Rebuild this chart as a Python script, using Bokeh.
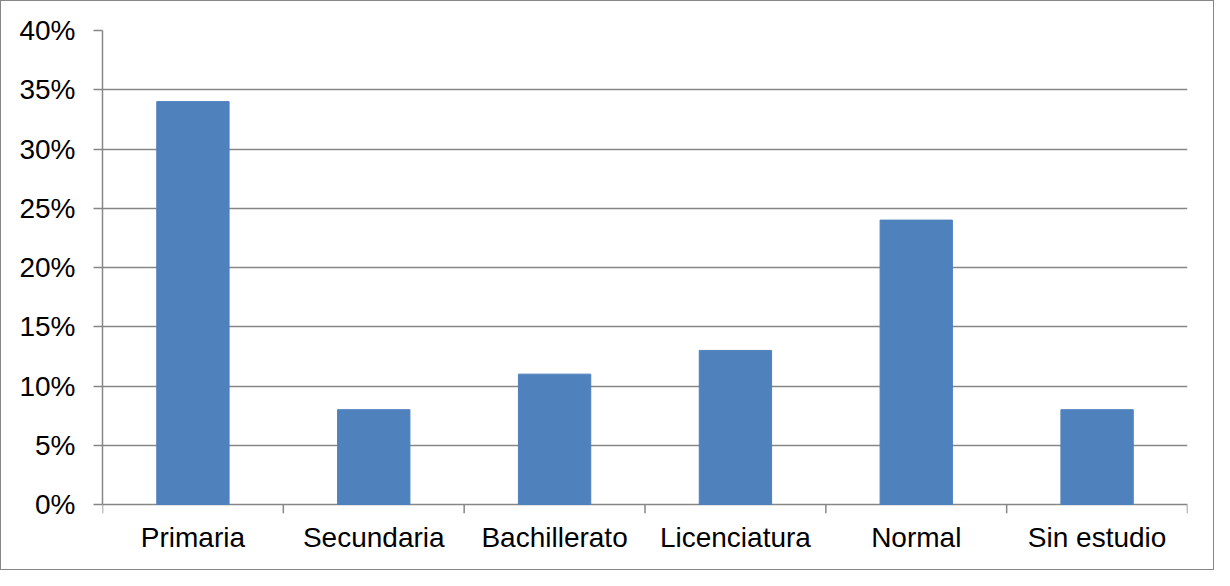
from bokeh.plotting import figure
from bokeh.models import (FactorRange, Range1d, LinearAxis, CategoricalAxis, FixedTicker,
                          NumeralTickFormatter, ColumnDataSource)
from bokeh.embed import file_html
from bokeh.resources import INLINE

categories = ["Primaria", "Secundaria", "Bachillerato", "Licenciatura", "Normal", "Sin estudio"]
values = [0.34, 0.08, 0.11, 0.13, 0.24, 0.08]
y_ticks = [0, 0.05, 0.10, 0.15, 0.20, 0.25, 0.30, 0.35, 0.40]

GRAY = "#868686"
FONT = "Liberation Sans"
FS = "28px"

Y_MAX = 0.4
PLOT_H = 474
TICK_PX = 9
tick_d = TICK_PX * Y_MAX / PLOT_H  # data length of the boundary ticks below 0

src = ColumnDataSource(dict(cat=categories, val=values))

p = figure(x_range=FactorRange(*categories, range_padding=0), y_range=Range1d(-tick_d, Y_MAX),
           frame_width=1085, frame_height=PLOT_H + TICK_PX,
           min_border_left=101, min_border_right=26, min_border_top=29, min_border_bottom=56,
           output_backend="svg", toolbar_location=None, x_axis_location=None,
           y_axis_location=None, outline_line_color=None, background_fill_color="white")
p.styles = {"border": "1px solid " + GRAY, "box-sizing": "border-box"}

p.vbar(x="cat", top="val", bottom=0, width=0.4, source=src, fill_color="#4F81BD",
       line_color="#4F81BD")

# boundary tick marks between categories
bx = [(c, -0.5) for c in categories] + [(categories[-1], 0.5)]
p.segment(x0=bx, x1=bx, y0=[0] * len(bx), y1=[-tick_d] * len(bx),
          line_color=GRAY, line_width=1.5)

yaxis = LinearAxis(ticker=FixedTicker(ticks=y_ticks, minor_ticks=[]),
                   formatter=NumeralTickFormatter(format="0%"), bounds=(0, Y_MAX))
yaxis.axis_line_color = GRAY
yaxis.axis_line_width = 1.5
yaxis.major_tick_line_color = GRAY
yaxis.major_tick_line_width = 1.5
yaxis.major_tick_out = 9
yaxis.major_tick_in = 0
yaxis.major_label_standoff = 18
yaxis.major_label_text_font = FONT
yaxis.major_label_text_font_size = FS
yaxis.major_label_text_color = "black"
p.add_layout(yaxis, "left")

xaxis = CategoricalAxis()
xaxis.axis_line_color = None
xaxis.major_tick_line_color = None
xaxis.major_tick_out = 0
xaxis.major_tick_in = 0
xaxis.major_label_standoff = 8
xaxis.major_label_text_font = FONT
xaxis.major_label_text_font_size = FS
xaxis.major_label_text_color = "black"
p.add_layout(xaxis, "below")

p.xgrid.visible = False
p.ygrid.grid_line_color = GRAY
p.ygrid.grid_line_width = 1.5
p.ygrid.ticker = FixedTicker(ticks=y_ticks)

open("out.html", "w").write(file_html(p, INLINE))
